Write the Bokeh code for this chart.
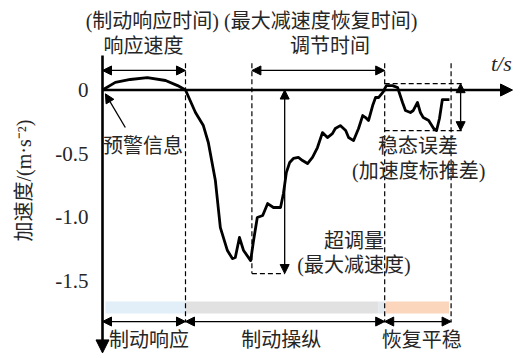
from bokeh.plotting import figure
from bokeh.models import Arrow, NormalHead
from bokeh.core.properties import value
from bokeh.embed import file_html
from bokeh.resources import INLINE

# Deceleration trace during an emergency braking manoeuvre (t in s, a in m/s^2)
time_s = [0.0, 0.31, 0.67, 1.08, 1.52, 1.81, 2.0, 2.24, 2.43, 2.55, 2.72, 2.84,
          3.01, 3.13, 3.20, 3.30, 3.40, 3.57, 3.64, 3.73, 3.86, 3.98, 4.12, 4.29,
          4.36, 4.43, 4.51, 4.60, 4.72, 4.82, 4.94, 5.06, 5.18, 5.30, 5.42, 5.54,
          5.61, 5.73, 5.86, 5.93, 6.05, 6.17, 6.27, 6.34, 6.41, 6.51, 6.58, 6.65,
          6.75, 6.84, 6.99, 7.11, 7.23, 7.30, 7.42, 7.49, 7.59, 7.66, 7.73, 7.86,
          7.98, 8.05, 8.12, 8.19, 8.36]
accel = [0.0, 0.06, 0.083, 0.098, 0.075, 0.035, 0.0, -0.177, -0.28, -0.413, -0.713, -1.083,
         -1.264, -1.327, -1.319, -1.161, -1.264, -1.343, -1.185, -1.004, -0.988, -0.894, -0.925, -0.925,
         -0.815, -0.650, -0.571, -0.539, -0.531, -0.555, -0.579, -0.531, -0.453, -0.335, -0.374, -0.343,
         -0.303, -0.280, -0.319, -0.374, -0.398, -0.303, -0.201, -0.217, -0.240, -0.122, -0.059, -0.059,
         -0.020, 0.035, 0.035, 0.020, -0.098, -0.161, -0.177, -0.161, -0.098, -0.177, -0.217, -0.240,
         -0.303, -0.319, -0.224, -0.075, -0.075]

# Key instants (s)
t_warning = 0.0
t_response = 2.0
t_peak = 3.6
t_settle = 6.8
t_steady_end = 8.4

# Reference levels (m/s^2)
peak_decel = -1.445
steady_high = 0.05
steady_low = -0.32

y_ticks = [0, -0.5, -1.0, -1.5]
y_tick_labels = ["0", "-0.5", "-1.0", "-1.5"]

phase_names = ["制动响应", "制动操纵", "恢复平稳"]
phase_start = [t_warning, t_response, t_settle]
phase_end = [t_response, t_settle, t_steady_end]

band_start = [0.07, 2.0, 6.65, 6.82]
band_end = [2.0, 6.65, 6.8, 8.35]
band_colors = ["#e2eff8", "#e1e1e1", "#e3e9ef", "#fbd6bd"]

SERIF = "Liberation Serif, serif"
FONT = "Liberation Serif, Noto Sans CJK SC"
INK = "#262626"

p = figure(width=524, height=358, x_range=(-2.458, 10.169), y_range=(-2.114, 0.705),
           toolbar_location=None, output_backend="svg", min_border=0,
           x_axis_type=None, y_axis_type=None)
p.grid.visible = False
p.outline_line_color = None
p.background_fill_color = "white"
p.border_fill_color = "white"


def head(size=9):
    return NormalHead(size=size, fill_color="black", line_color="black", line_width=1)


def arrow(x0, y0, x1, y1, both=True, width=1.3, size=9):
    p.add_layout(Arrow(start=head(size) if both else None, end=head(size),
                       x_start=x0, y_start=y0, x_end=x1, y_end=y1,
                       line_width=width, line_color="black"))


# phase bands under the curve
p.quad(left=band_start, right=band_end, bottom=-1.76, top=-1.665,
       fill_color=band_colors, line_color=None)

# dashed guide lines
guide_top = 0.21
guide_bottom = -1.83
dash = "5 3"
p.segment(x0=[t_response, t_settle, t_steady_end], y0=guide_top,
          x1=[t_response, t_settle, t_steady_end], y1=guide_bottom,
          line_color="black", line_width=1.2, line_dash=dash)
p.segment(x0=[t_peak, t_peak], y0=[guide_top, peak_decel],
          x1=[t_peak, 4.39], y1=[peak_decel, peak_decel],
          line_color="black", line_width=1.2, line_dash=dash)
p.segment(x0=[t_settle, t_settle], y0=[steady_high, steady_low],
          x1=[8.72, 8.72], y1=[steady_high, steady_low],
          line_color="black", line_width=1.2, line_dash=dash)

# axes drawn as arrows
arrow(0, 0, 9.88, 0, both=False, width=2.6, size=12)
arrow(0, 0.272, 0, -2.07, both=False, width=2.6, size=13)

# acceleration curve
p.line(time_s, accel, line_color="black", line_width=2.8, line_join="round")

# timing arrows
arrow(t_warning, 0.154, t_response, 0.154)
arrow(t_peak, 0.154, t_settle, 0.154)
arrow(4.39, 0.0, 4.39, peak_decel)
arrow(8.63, steady_high, 8.63, steady_low)
arrow(0.55, -0.295, 0.07, -0.03, both=False)
for s, e in zip(phase_start, phase_end):
    arrow(s, -1.823, e, -1.823)

# y tick labels
p.text(x=[-0.337] * len(y_ticks), y=y_ticks, text=y_tick_labels,
       text_font=value(SERIF), text_font_size="21px", text_align="right",
       text_baseline="middle", text_color=INK)

# y axis title
p.text(x=[-1.90], y=[-0.713], text=["加速度/(m·s⁻²)"], angle=1.5708,
       text_font=value(FONT), text_font_size="20px", text_align="center",
       text_baseline="middle", text_color=INK)

# t/s
p.text(x=[9.61], y=[0.209], text=["t/s"], text_font=value(SERIF),
       text_font_style="italic", text_font_size="22px", text_align="center",
       text_baseline="middle", text_color=INK)

labels_x = [3.59, 0.988, 5.48, 0.976, 6.06, 6.06, 7.60, 7.62]
labels_y = [0.547, 0.35, 0.35, -0.437, -1.185, -1.374, -0.437, -0.634]
labels = ["(制动响应时间) (最大减速度恢复时间)", "响应速度", "调节时间", "预警信息",
          "超调量", "(最大减速度)", "稳态误差", "(加速度标推差)"]
p.text(x=labels_x, y=labels_y, text=labels, text_font=value(FONT),
       text_font_size="20px", text_align="center", text_baseline="middle",
       text_color=INK)

phase_label_x = [1.12, 4.31, 7.69]
p.text(x=phase_label_x, y=[-1.972] * 3, text=phase_names, text_font=value(FONT),
       text_font_size="20px", text_align="center", text_baseline="middle",
       text_color=INK)

open("out.html", "w").write(file_html(p, INLINE))
